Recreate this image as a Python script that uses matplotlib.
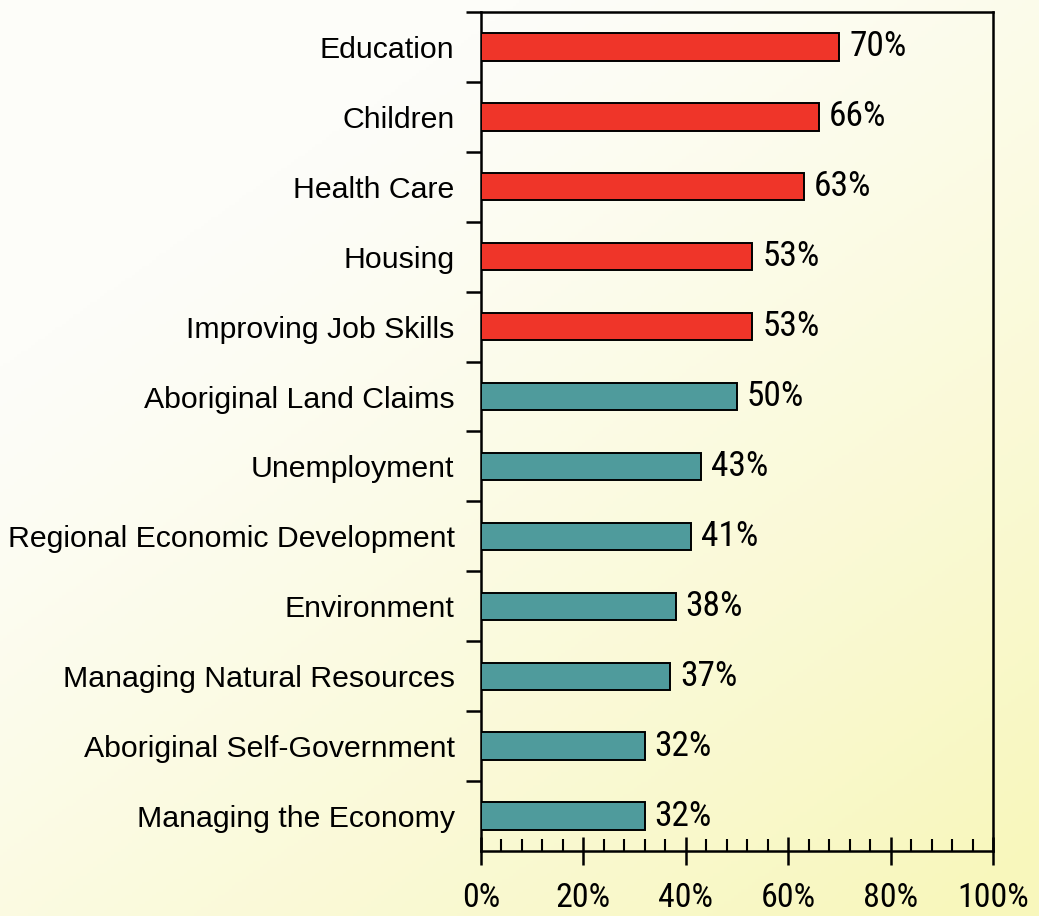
import numpy as np
import matplotlib
matplotlib.use("Agg")
import matplotlib.pyplot as plt
from matplotlib import font_manager
from matplotlib.ticker import FixedLocator, MultipleLocator

plt.rcParams['font.family'] = ['Liberation Sans', 'DejaVu Sans']

categories = [
    "Education", "Children", "Health Care", "Housing", "Improving Job Skills",
    "Aboriginal Land Claims", "Unemployment", "Regional Economic Development",
    "Environment", "Managing Natural Resources", "Aboriginal Self-Government",
    "Managing the Economy",
]
values = [70, 66, 63, 53, 53, 50, 43, 41, 38, 37, 32, 32]
is_priority = [True, True, True, True, True,
               False, False, False, False, False, False, False]
x_ticks = [0, 20, 40, 60, 80, 100]
x_tick_labels = ["0%", "20%", "40%", "60%", "80%", "100%"]

RED = "#ef3529"
TEAL = "#4f9b9c"


def pick_condensed():
    for name in ["Roboto Condensed", "Liberation Sans Narrow",
                 "Open Sans Condensed", "Arial Narrow"]:
        try:
            font_manager.findfont(name, fallback_to_default=False)
            return [name, "DejaVu Sans"], True
        except ValueError:
            continue
    return ["Liberation Sans", "DejaVu Sans"], False


NUM_FAMILY, condensed = pick_condensed()
if condensed:
    num_size, tick_size = 25.5, 24.5
else:
    num_size, tick_size = 22, 21

W, H = 1039, 916
fig = plt.figure(figsize=(W / 100, H / 100), dpi=100)

# soft paper-like background: white at top-left fading to pale yellow
bg = fig.add_axes([0, 0, 1, 1], zorder=-10)
gx, gy = np.meshgrid(np.linspace(0, 1, 300), np.linspace(0, 1, 300))
t = np.clip(0.6 * gx + 0.75 * gy - 0.3, 0, 1) ** 1.2
white = np.array([253, 253, 249]) / 255
yellow = np.array([248, 247, 188]) / 255
img = white[None, None, :] * (1 - t[..., None]) + yellow[None, None, :] * t[..., None]
bg.imshow(img, aspect="auto", extent=[0, 1, 0, 1], origin="upper")
bg.axis("off")

ax = fig.add_axes([481 / W, 1 - 851 / H, 512 / W, 839 / H])
ax.patch.set_alpha(0)

n = len(categories)
ypos = np.arange(n)
colors = [RED if p else TEAL for p in is_priority]
ax.barh(ypos, values, height=0.39, color=colors, edgecolor="black",
        linewidth=1.4, zorder=3)

for y, v in zip(ypos, values):
    ax.text(v + 1.9, y, f"{v}%", va="center", ha="left", fontsize=num_size,
            family=NUM_FAMILY, color="black")

ax.set_xlim(0, 100)
ax.set_ylim(n - 0.5, -0.5)

# y-axis: category names, ticks at category boundaries
ax.set_yticks(ypos)
ax.set_yticklabels(categories, fontsize=21.8)
ax.tick_params(axis="y", which="major", length=0, pad=19)
ax.yaxis.set_minor_locator(FixedLocator(np.arange(-0.5, n - 0.5, 1.0)))
ax.tick_params(axis="y", which="minor", direction="out", length=11,
               width=1.8, color="black")

# x-axis
ax.set_xticks(x_ticks)
ax.set_xticklabels(x_tick_labels, fontsize=tick_size, family=NUM_FAMILY)
ax.xaxis.set_minor_locator(MultipleLocator(4))
ax.tick_params(axis="x", which="major", direction="inout", length=20,
               width=1.8, pad=12)
ax.tick_params(axis="x", which="minor", direction="in", length=9, width=1.5)

for side in ["left", "right", "top", "bottom"]:
    ax.spines[side].set_linewidth(1.8)

fig.savefig("out.png", dpi=100)
